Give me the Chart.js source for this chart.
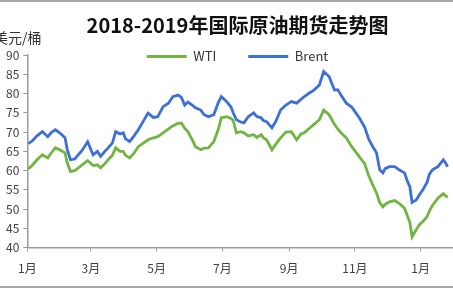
<!DOCTYPE html>
<html><head><meta charset="utf-8">
<script src="https://cdn.jsdelivr.net/npm/chart.js@4"></script>
<style>
html,body{margin:0;padding:0;background:#fff;overflow:hidden;width:453px;height:290px;}
#wrap{position:relative;width:453px;height:290px;overflow:hidden;}
#cv{position:absolute;left:0;top:0;}
#unit{position:absolute;left:-6px;top:27px;font:14px "Noto Sans CJK SC",sans-serif;color:#333;}
#topline{position:absolute;left:0;top:0;width:453px;height:2px;background:#a8a8a8;}
#botline{position:absolute;left:0;top:286px;width:453px;height:2px;background:#a8a8a8;}
</style></head>
<body><div id="wrap">
<canvas id="cv" width="477" height="290" style="width:477px;height:290px"></canvas>
<div id="unit">美元/桶</div>
<div id="topline"></div><div id="botline"></div>
</div>
<script>
// days since 2018-01-01
const days = [1,5,9,14,19,22,26,30,35,37,40,44,47,51,56,61,65,68,72,75,79,82,86,89,91,95,99,103,107,112,117,121,126,131,135,140,143,146,149,153,156,161,164,168,173,177,180,185,189,191,194,198,201,205,210,213,217,219,222,227,231,235,240,245,250,254,257,261,266,271,275,280,285,288,291,296,301,303,308,313,317,321,324,327,330,332,336,341,345,350,353,355,357,361,364,367,371,373,376,381,386,388,390];
const wti = [60.4,61.5,62.8,64.1,63.3,64.5,65.9,65.4,64.6,62.0,59.8,60.0,60.6,61.5,62.6,61.3,61.5,60.7,61.8,62.8,64.0,65.9,65.0,65.0,64.0,63.3,64.5,66.2,67.0,68.0,68.5,68.8,69.8,70.8,71.6,72.3,72.3,71.0,70.1,68.0,66.2,65.4,65.8,65.9,67.5,70.5,73.7,74.0,73.5,73.0,69.8,70.1,69.8,69.0,69.3,68.6,69.3,68.5,68.0,65.4,67.0,68.5,70.0,70.1,68.0,69.5,69.8,70.8,72.0,73.2,75.7,74.5,72.0,70.8,69.8,68.5,66.2,65.5,63.6,61.8,58.5,56.0,54.2,51.7,50.6,51.2,51.9,52.2,51.5,50.2,48.0,46.5,42.8,44.7,46.0,46.8,48.0,49.5,51.0,52.8,54.0,53.5,53.0];
const brent = [67.0,67.8,69.0,70.1,68.8,69.8,70.6,69.8,68.5,65.5,62.8,63.0,64.0,65.3,67.5,64.1,65.0,63.7,65.0,65.9,67.2,70.1,69.5,69.8,68.3,67.5,69.0,70.6,72.5,74.9,73.8,74.0,76.6,77.5,79.2,79.6,79.0,77.0,77.8,77.0,76.3,75.7,74.5,74.0,74.5,77.5,79.2,77.9,76.5,75.0,73.2,72.6,72.4,74.0,75.0,74.0,73.7,73.0,72.7,71.1,73.0,75.7,77.0,77.9,77.5,78.5,79.2,80.0,80.9,82.2,85.7,84.4,80.9,81.0,79.6,77.5,76.5,75.7,73.7,71.3,68.0,66.0,64.6,60.2,59.4,60.5,61.0,61.0,60.2,59.4,57.0,55.8,51.7,52.4,53.8,55.0,57.0,59.0,60.2,61.0,62.8,62.0,61.0];
const monthTicks = [0,59,120,181,243,304,365];
const monthLabels = ['1月','3月','5月','7月','9月','11月','1月'];
const seriesNames = ['WTI','Brent'];
const title = '2018-2019年国际原油期货走势图';

const pts = arr => arr.map((v,i)=>({x:days[i],y:v}));
const font = '"Noto Sans CJK SC", sans-serif';
const chart = new Chart(document.getElementById('cv'), {
  type:'line',
  data:{datasets:[
    {label:seriesNames[0],data:pts(wti),borderColor:'#6fb540',borderWidth:2.8,pointRadius:0,tension:0,fill:false},
    {label:seriesNames[1],data:pts(brent),borderColor:'#3d6fd8',borderWidth:2.8,pointRadius:0,tension:0,fill:false}
  ]},
  options:{
    responsive:false,animation:false,
    layout:{padding:{left:2,right:24,top:0,bottom:4}},
    plugins:{
      title:{display:true,text:title,color:'#111',font:{family:font,size:20,weight:'bold'},padding:{top:13,bottom:3}},
      legend:{position:'top',align:'center',labels:{usePointStyle:true,pointStyle:'line',pointStyleWidth:40,color:'#333',font:{family:font,size:13},padding:32,boxHeight:13}},
      tooltip:{enabled:false}
    },
    scales:{
      x:{type:'linear',min:0,max:395,
        afterBuildTicks:s=>{s.ticks=monthTicks.map(v=>({value:v}));},
        ticks:{autoSkip:false,maxRotation:0,padding:10,color:'#404040',font:{family:font,size:12},
          callback:(v)=>{const i=monthTicks.indexOf(v);return i>=0?monthLabels[i]:'';}},
        grid:{drawOnChartArea:false,drawTicks:true,tickLength:4,color:'#9a9a9a'},
        border:{color:'#9a9a9a',width:1.5}},
      y:{min:40,max:90,
        ticks:{stepSize:5,padding:4,color:'#404040',font:{family:font,size:12}},
        grid:{drawOnChartArea:false,drawTicks:true,tickLength:4,color:'#9a9a9a'},
        border:{color:'#9a9a9a',width:1.5}}
    }
  }
});
// centre title and legend over the plot area and let the legend overlap its top, as in the reference
const shiftX = 10;
const tt = chart.titleBlock;
const origTitleDraw = tt.draw.bind(tt);
tt.draw = function(){ const c=this.ctx; c.save(); c.translate(shiftX,0); origTitleDraw(); c.restore(); };
const lg = chart.legend;
const origFit = lg.fit.bind(lg);
lg.fit = function(){ origFit(); this.height = 15; };
const origDraw = lg.draw.bind(lg);
lg.draw = function(){ const c=this.ctx; const b=this.bottom; this.bottom=b+60; c.save(); c.translate(shiftX,-22); origDraw(); c.restore(); this.bottom=b; };
chart.update();
</script></body></html>
